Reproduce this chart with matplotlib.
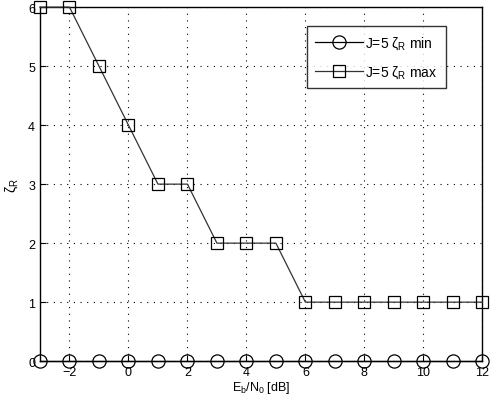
import matplotlib
matplotlib.use("Agg")
import matplotlib.pyplot as plt

plt.rcParams['font.family'] = ['Liberation Sans', 'DejaVu Sans']

ebn0 = [-3, -2, -1, 0, 1, 2, 3, 4, 5, 6, 7, 8, 9, 10, 11, 12]
zeta_min = [0, 0, 0, 0, 0, 0, 0, 0, 0, 0, 0, 0, 0, 0, 0, 0]
zeta_max = [6, 6, 5, 4, 3, 3, 2, 2, 2, 1, 1, 1, 1, 1, 1, 1]
xticks = [-2, 0, 2, 4, 6, 8, 10, 12]
yticks = [0, 1, 2, 3, 4, 5, 6]

fig = plt.figure(figsize=(4.92, 4.06), dpi=100)
ax = fig.add_axes([0.0813, 0.108, 0.899, 0.872])

ax.plot(ebn0, zeta_min, color='black', lw=0.9, marker='o', ms=9.5,
        mfc='none', mec='black', mew=0.9, label='J=5 ζ$_\\mathregular{R}$ min', clip_on=False, zorder=3)
ax.plot(ebn0, zeta_max, color='#333333', lw=0.9, marker='s', ms=9,
        mfc='none', mec='black', mew=0.9, label='J=5 ζ$_\\mathregular{R}$ max', clip_on=False, zorder=3)

ax.set_xlim(-3, 12)
ax.set_ylim(0, 6)
ax.set_xticks(xticks)
ax.set_yticks(yticks)
ax.set_xticklabels(['\u22122' if t == -2 else str(t) for t in xticks])
ax.tick_params(direction='in', length=4, labelsize=9, width=0.8)
ax.grid(True, linestyle=(0, (1, 5)), color='black', lw=0.8)
for s in ax.spines.values():
    s.set_linewidth(1.0)

ax.set_xlabel('E$_\\mathregular{b}$/N$_\\mathregular{0}$ [dB]', fontsize=9, labelpad=1)
ax.set_ylabel('ζ$_\\mathregular{R}$', fontsize=10, labelpad=6)

leg = ax.legend(loc='upper left', bbox_to_anchor=(0.604, 0.946), fontsize=10,
                frameon=True, fancybox=False, edgecolor='black', handlelength=3.4,
                borderpad=0.6, labelspacing=0.85, handletextpad=0.2, borderaxespad=0)
leg.get_frame().set_linewidth(1.0)
fig.canvas.draw()
# widen the frame to the right to match the reference box
bb = leg.get_frame().get_bbox()
leg.get_frame().set_width(bb.width + 14)

fig.savefig('out.png', dpi=100)
